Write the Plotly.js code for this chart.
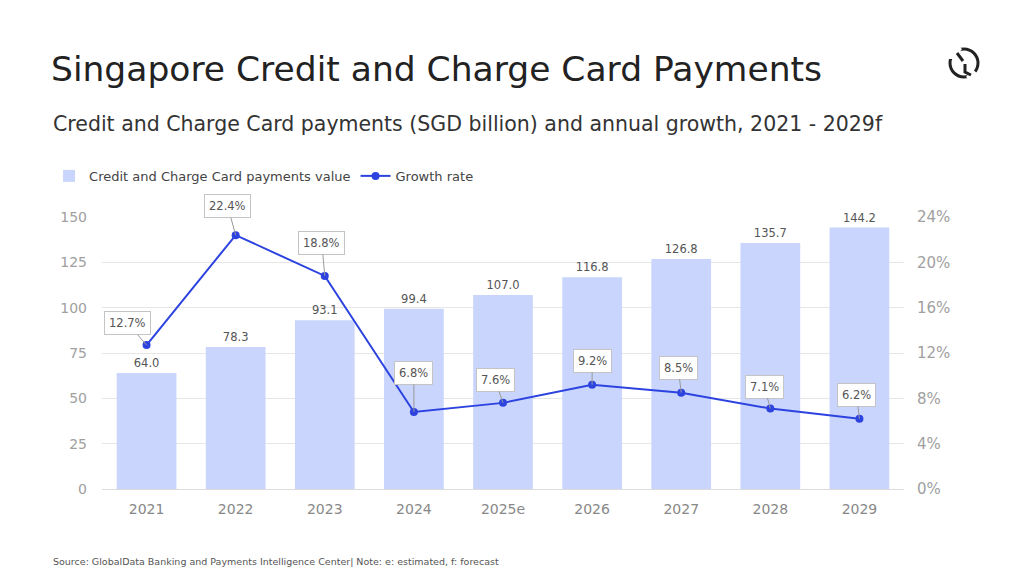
<!DOCTYPE html>
<html>
<head>
<meta charset="utf-8">
<script src="https://cdn.plot.ly/plotly-3.0.1.min.js"></script>
<style>html,body{margin:0;padding:0;background:#fff;}#chart{width:1024px;height:576px;}</style>
</head>
<body>
<div id="chart"></div>
<script>
var categories = ['2021','2022','2023','2024','2025e','2026','2027','2028','2029'];
var paymentsValue = [64.0, 78.3, 93.1, 99.4, 107.0, 116.8, 126.8, 135.7, 144.2];
var growthRate = [12.7, 22.4, 18.8, 6.8, 7.6, 9.2, 8.5, 7.1, 6.2];
var growthLabelOffsets = [[-19,-22],[-8,-29],[-3,-33],[0,-39],[-8,-23],[0,-24],[-3,-25],[-6,-22],[-3,-24]];
var leftTicks = [0,25,50,75,100,125,150];
var rightTicks = [0,4,8,12,16,20,24];

var FONT = 'DejaVu Sans, sans-serif';
var positions = categories.map(function(c, i){ return i; });

var barTrace = {
  type: 'bar', x: positions, y: paymentsValue,
  name: 'Credit and Charge Card payments value',
  marker: {color: '#c9d5fc'},
  text: paymentsValue.map(function(v){return v.toFixed(1);}),
  textposition: 'outside', cliponaxis: false,
  textfont: {size: 11.5, color: '#555', family: FONT},
  hoverinfo: 'skip'
};
var lineTrace = {
  type: 'scatter', mode: 'lines+markers', x: positions, y: growthRate,
  yaxis: 'y2', name: 'Growth rate',
  line: {color: '#2d43e0', width: 2},
  marker: {color: '#2d43e0', size: 8},
  cliponaxis: false
};

var annotations = growthRate.map(function(g, i){
  return {
    x: positions[i], y: g, xref: 'x', yref: 'y2',
    text: g.toFixed(1) + '%',
    showarrow: true, arrowhead: 0, arrowwidth: 1, arrowcolor: '#999',
    ax: growthLabelOffsets[i][0], ay: growthLabelOffsets[i][1],
    bgcolor: '#fff', bordercolor: '#c4c4c4', borderwidth: 1, borderpad: 4,
    font: {size: 11.5, color: '#555', family: FONT}
  };
});
annotations.push({
  xref: 'paper', yref: 'paper', x: -0.0636, y: 1.343, xanchor: 'left', yanchor: 'middle',
  text: 'Credit and Charge Card payments (SGD billion) and annual growth, 2021 - 2029f',
  showarrow: false, font: {size: 20.5, color: '#333', family: FONT}
});
annotations.push({
  xref: 'paper', yref: 'paper', x: -0.0636, y: -0.265, xanchor: 'left', yanchor: 'middle',
  text: 'Source: GlobalData Banking and Payments Intelligence Center| Note: e: estimated, f: forecast',
  showarrow: false, font: {size: 9.5, color: '#555', family: FONT}
});

function logoShape(path, fill) {
  return {type: 'path', xref: 'paper', yref: 'paper', xsizemode: 'pixel', ysizemode: 'pixel',
    xanchor: (964 - 102) / 802, yanchor: (489 - 63) / 272, path: path,
    fillcolor: fill || 'rgba(0,0,0,0)', line: {color: fill ? fill : '#222', width: fill ? 0 : 3}};
}

var layout = {
  width: 1024, height: 576,
  margin: {l: 102, r: 120, t: 217, b: 87},
  paper_bgcolor: '#fff', plot_bgcolor: '#fff',
  font: {family: FONT},
  title: {
    text: 'Singapore Credit and Charge Card Payments',
    x: 51/1024, xanchor: 'left', xref: 'container',
    y: 1 - 69/576, yanchor: 'middle', yref: 'container',
    font: {size: 34.5, color: '#222', family: FONT}
  },
  bargap: 0.33,
  showlegend: true,
  legend: {
    orientation: 'h', x: -0.066, y: 1.151, xanchor: 'left', yanchor: 'middle',
    font: {size: 13, color: '#444', family: FONT},
    traceorder: 'normal', tracegroupgap: 0
  },
  xaxis: {
    range: [-0.5, 8.5], tickvals: positions, ticktext: categories,
    tickfont: {size: 14, color: '#888', family: FONT},
    showgrid: false, showline: false, zeroline: false, ticks: '', ticklabelstandoff: 10
  },
  yaxis: {
    range: [0, 150], tickvals: leftTicks, ticktext: leftTicks.map(String),
    tickfont: {size: 14, color: '#a0a0a0', family: FONT},
    gridcolor: '#e6e6e6', gridwidth: 1, zeroline: true, zerolinecolor: '#dcdcdc', zerolinewidth: 1,
    ticks: '', ticklabelstandoff: 14
  },
  yaxis2: {
    range: [0, 24], overlaying: 'y', side: 'right',
    tickvals: rightTicks, ticktext: rightTicks.map(function(t){return t + '%';}),
    tickfont: {size: 15, color: '#a0a0a0', family: FONT},
    showgrid: false, zeroline: false, ticks: '', ticklabelstandoff: 12
  },
  annotations: annotations,
  shapes: [
    {type: 'circle', xref: 'paper', yref: 'paper', xsizemode: 'pixel', ysizemode: 'pixel',
     xanchor: (964 - 102) / 802, yanchor: (489 - 63) / 272,
     x0: -14, x1: 14, y0: -14, y1: 14, line: {color: '#222', width: 3}},
    logoShape('M -13 12 L -4 12 L -4 4 L -16 4 Z', '#fff'),
    logoShape('M -8 6 L -2 14 L -7 18 L -13 10 Z', '#fff'),
    logoShape('M 8 -6 L 2 -14 L 7 -18 L 13 -10 Z', '#fff'),
    logoShape('M -7 10 L -1 2'),
    logoShape('M 1 -1 L 1 -9 L 7 -12')
  ]
};

Plotly.newPlot('chart', [barTrace, lineTrace], layout, {displayModeBar: false, staticPlot: true});
</script>
</body>
</html>
